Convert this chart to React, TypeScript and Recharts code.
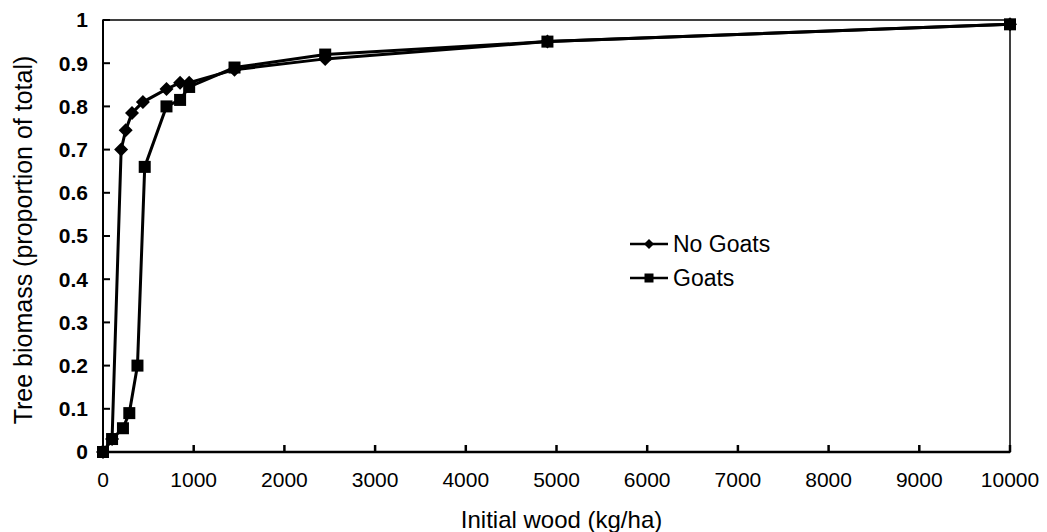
import React from 'react';
import { LineChart, Line, XAxis, YAxis, Legend, ReferenceArea } from 'recharts';

const noGoatsWood = [0, 100, 200, 250, 320, 440, 700, 850, 950, 1450, 2450, 4900, 10000];
const noGoatsBiomass = [0, 0.03, 0.7, 0.745, 0.785, 0.81, 0.84, 0.855, 0.855, 0.885, 0.91, 0.95, 0.99];

const goatsWood = [0, 100, 220, 290, 380, 460, 700, 850, 950, 1450, 2450, 4900, 10000];
const goatsBiomass = [0, 0.03, 0.055, 0.09, 0.2, 0.66, 0.8, 0.815, 0.845, 0.89, 0.92, 0.95, 0.99];

const xTicks = [0, 1000, 2000, 3000, 4000, 5000, 6000, 7000, 8000, 9000, 10000];
const yTicks = [0, 0.1, 0.2, 0.3, 0.4, 0.5, 0.6, 0.7, 0.8, 0.9, 1];

const noGoats = noGoatsWood.map((x, i) => ({ wood: x, value: noGoatsBiomass[i] }));
const goats = goatsWood.map((x, i) => ({ wood: x, value: goatsBiomass[i] }));

const FONT = '"Liberation Sans", Arial, sans-serif';

const Diamond = (props: any) => {
  const { cx, cy, index } = props;
  if (cx == null || cy == null) return null;
  const r = 7;
  return (
    <path
      key={`d-${index}`}
      d={`M${cx},${cy - r}L${cx + r},${cy}L${cx},${cy + r}L${cx - r},${cy}Z`}
      fill="#000"
    />
  );
};

const Square = (props: any) => {
  const { cx, cy, index } = props;
  if (cx == null || cy == null) return null;
  const r = 6;
  return <rect key={`s-${index}`} x={cx - r} y={cy - r} width={r * 2} height={r * 2} fill="#000" />;
};

const LegendContent = () => (
  <div style={{ fontFamily: FONT, fontSize: 23, color: '#000', lineHeight: '34px' }}>
    <div style={{ display: 'flex', alignItems: 'center' }}>
      <svg width={45} height={14}>
        <line x1={2} y1={7} x2={40} y2={7} stroke="#000" strokeWidth={2.5} />
        <path d="M21,2L26,7L21,12L16,7Z" fill="#000" />
      </svg>
      <span>No Goats</span>
    </div>
    <div style={{ display: 'flex', alignItems: 'center' }}>
      <svg width={45} height={14}>
        <line x1={2} y1={7} x2={40} y2={7} stroke="#000" strokeWidth={2.5} />
        <rect x={16.5} y={2.5} width={9} height={9} fill="#000" />
      </svg>
      <span>Goats</span>
    </div>
  </div>
);

export default function App() {
  return (
    <div style={{ position: 'fixed', left: 0, top: 0, background: '#fff' }}>
      <LineChart
        width={1047}
        height={532}
        margin={{ top: 20, right: 37, left: 0, bottom: 0 }}
        style={{ fontFamily: FONT }}
      >
        <ReferenceArea x1={0} x2={10000} y1={0} y2={1} fill="none" stroke="#000" strokeWidth={1.5} />
        <XAxis
          type="number"
          dataKey="wood"
          domain={[0, 10000]}
          ticks={xTicks}
          height={80}
          stroke="#000"
          strokeWidth={2.5}
          tickSize={-7}
          tickMargin={27}
          tick={{ fill: '#000', fontSize: 21, fontFamily: FONT }}
          label={{ value: 'Initial wood (kg/ha)', position: 'insideBottom', offset: 4, dx: 5, fill: '#000', fontSize: 24, fontFamily: FONT }}
        />
        <YAxis
          type="number"
          dataKey="value"
          domain={[0, 1]}
          ticks={yTicks}
          width={103}
          stroke="#000"
          strokeWidth={2}
          tickSize={-7}
          tickMargin={22}
          tickFormatter={(v: number) => String(Math.round(v * 10) / 10)}
          tick={{ fill: '#000', fontSize: 21, fontWeight: 'bold', fontFamily: FONT }}
          label={{ value: 'Tree biomass (proportion of total)', angle: -90, position: 'center', dx: -28, dy: 4, fill: '#000', fontSize: 25, fontFamily: FONT }}
        />
        <Legend
          layout="vertical"
          align="center"
          verticalAlign="middle"
          content={<LegendContent />}
          wrapperStyle={{ left: 628, top: 227, width: 'auto' }}
        />
        <Line
          data={noGoats}
          dataKey="value"
          name="No Goats"
          stroke="#000"
          strokeWidth={3}
          dot={Diamond}
          activeDot={false}
          isAnimationActive={false}
        />
        <Line
          data={goats}
          dataKey="value"
          name="Goats"
          stroke="#000"
          strokeWidth={3}
          dot={Square}
          activeDot={false}
          isAnimationActive={false}
        />
      </LineChart>
    </div>
  );
}
